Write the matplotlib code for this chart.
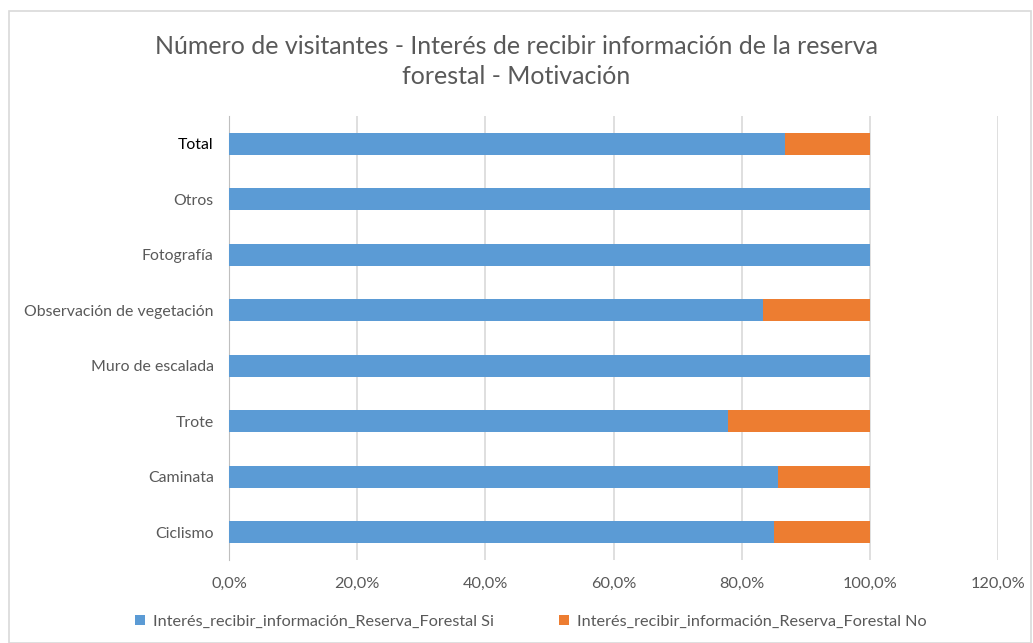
import matplotlib.pyplot as plt
from matplotlib.patches import Rectangle
from matplotlib.ticker import FuncFormatter

categories = ["Ciclismo", "Caminata", "Trote", "Muro de escalada",
              "Observación de vegetación", "Fotografía", "Otros", "Total"]
si_pct = [85.0, 85.6, 77.8, 100.0, 83.3, 100.0, 100.0, 86.8]
no_pct = [15.0, 14.4, 22.2, 0.0, 16.7, 0.0, 0.0, 13.2]
x_ticks = [0, 20, 40, 60, 80, 100, 120]

plt.rcParams['font.family'] = ['Lato', 'DejaVu Sans']

W, H = 1033, 643
fig = plt.figure(figsize=(W / 100, H / 100), dpi=100)
fig.patches.append(Rectangle((9 / W, 0), 1 - 11 / W, 1 - 11 / H, transform=fig.transFigure,
                             fill=False, edgecolor="#D9D9D9", linewidth=1.2))

ax = fig.add_axes([229 / W, 1 - 560 / H, (998 - 229) / W, (560 - 116) / H])
ypos = list(range(len(categories)))
ax.barh(ypos, si_pct, height=0.4, color="#5B9BD5",
        label="Interés_recibir_información_Reserva_Forestal Si", zorder=3)
ax.barh(ypos, no_pct, left=si_pct, height=0.4, color="#ED7D31",
        label="Interés_recibir_información_Reserva_Forestal No", zorder=3)

ax.set_xlim(0, 120)
ax.set_ylim(-0.5, len(categories) - 0.5)
ax.set_xticks(x_ticks)
ax.xaxis.set_major_formatter(FuncFormatter(lambda v, p: f"{v:.1f}%".replace(".", ",")))
ax.set_yticks(ypos)
ax.set_yticklabels(categories)
ax.grid(axis="x", color="#D9D9D9", linewidth=1.2, zorder=0)
for s in ["top", "right", "bottom"]:
    ax.spines[s].set_visible(False)
ax.spines["left"].set_color("#BFBFBF")
ax.tick_params(axis="both", length=0, labelsize=11.7, colors="#595959")
ax.tick_params(axis="x", pad=12)
ax.tick_params(axis="y", pad=11, labelsize=11.4)
ax.get_yticklabels()[-1].set_color("#000000")

fig.text(0.5, 1 - 46 / H, "Número de visitantes - Interés de recibir información de la reserva",
         ha="center", va="center", fontsize=18, color="#595959")
fig.text(0.5, 1 - 77 / H, "forestal - Motivación",
         ha="center", va="center", fontsize=18, color="#595959")

ax.legend(loc="center", bbox_to_anchor=(531 / W, 1 - 622 / H), bbox_transform=fig.transFigure,
          ncol=2, frameon=False, fontsize=11.7, labelcolor="#595959",
          handlelength=0.6, handleheight=0.6, columnspacing=4.0, handletextpad=0.5)

fig.savefig("out.png", dpi=100, facecolor="white")
